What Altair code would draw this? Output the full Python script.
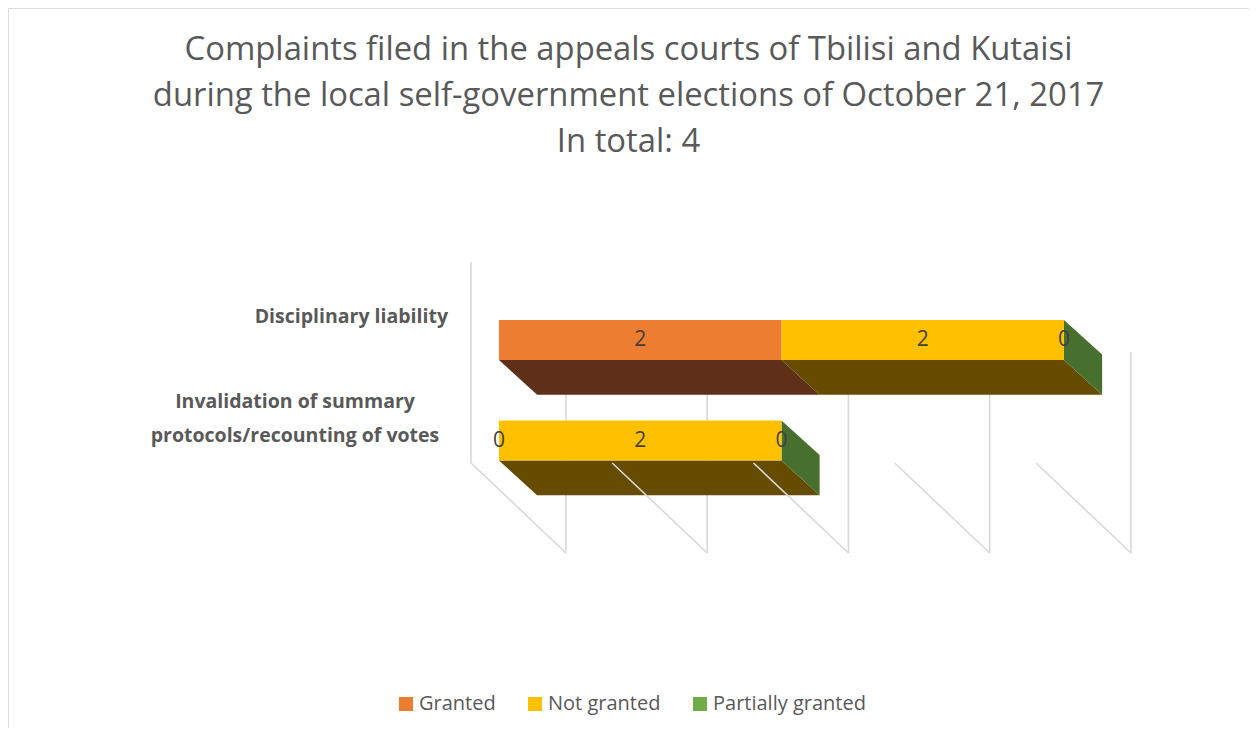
import altair as alt
import pandas as pd

# ---------------- data ----------------
categories = ["Disciplinary liability",
              "Invalidation of summary\nprotocols/recounting of votes"]
series_names = ["Granted", "Not granted", "Partially granted"]
granted = [2, 0]
not_granted = [2, 2]
partially_granted = [0, 0]
value_ticks = [0, 1, 2, 3, 4]
title_lines = ["Complaints filed in the appeals courts of Tbilisi and Kutaisi",
               "during the local self-government elections of October 21, 2017",
               "In total: 4"]

# ---------------- style ----------------
front_colors = ["#ED7D31", "#FFC000", "#70AD47"]
shade_colors = ["#5E3017", "#654C00", "#476F2D"]
grid_color = "#D9D9D9"
text_gray = "#595959"
FONT = "Open Sans"

# projection of the 3-D box (value units on x, category units on y)
X_DOMAIN = [-3.476, 5.310]
Y_DOMAIN = [-3.3035, 3.8607]
BAR_HALF = 0.2
DEPTH_DX = 0.27
DEPTH_DY = 0.345
WALL_X = -0.198
WALL_TOP = -0.776
WALL_BOTTOM = 1.224
FLOOR_DX = 0.672
FLOOR_DY = 0.895
LABEL_DY = -0.23
LABEL_SHIFT = 0.3  # upward shift per extra label line, in category units

series_values = {"Granted": granted, "Not granted": not_granted,
                 "Partially granted": partially_granted}

seg_rows, bottom_rows, side_rows, label_rows = [], [], [], []
for ci, cat in enumerate(categories):
    start = 0
    for si, s in enumerate(series_names):
        v = series_values[s][ci]
        end = start + v
        sid = f"{ci}-{si}"
        seg_rows.append(dict(series=s, value=v, x=start, x2=end, mid=(start + end) / 2,
                             y=ci - BAR_HALF, y2=ci + BAR_HALF, yc=ci))
        bottom_rows.append(dict(face=s, sid=sid, y=ci + BAR_HALF, x=start, x2=end))
        bottom_rows.append(dict(face=s, sid=sid, y=ci + BAR_HALF + DEPTH_DY,
                                x=start + DEPTH_DX, x2=end + DEPTH_DX))
        start = end
    last = series_names[-1]
    side_rows.append(dict(face=last, sid=str(ci), x=start,
                          y=ci - BAR_HALF, y2=ci + BAR_HALF))
    side_rows.append(dict(face=last, sid=str(ci), x=start + DEPTH_DX,
                          y=ci - BAR_HALF + DEPTH_DY, y2=ci + BAR_HALF + DEPTH_DY))
    n_lines = cat.count("\n") + 1
    label_rows.append(dict(cat=cat, x=WALL_X, lines=n_lines,
                           y=ci + LABEL_DY - (n_lines - 1) * LABEL_SHIFT / 2))

segs = pd.DataFrame(seg_rows)
bottoms = pd.DataFrame(bottom_rows)
sides = pd.DataFrame(side_rows)
labels = pd.DataFrame(label_rows)

wall = pd.DataFrame([dict(x=WALL_X, y=WALL_TOP, y2=WALL_BOTTOM)])
front_grid = pd.DataFrame([dict(x=t + WALL_X + FLOOR_DX, y=WALL_TOP + FLOOR_DY,
                                y2=WALL_BOTTOM + FLOOR_DY) for t in value_ticks])
diag = pd.DataFrame([dict(x=t + WALL_X, x2=t + WALL_X + FLOOR_DX, y=WALL_BOTTOM,
                          y2=WALL_BOTTOM + FLOOR_DY) for t in value_ticks])

xs = alt.Scale(domain=X_DOMAIN, nice=False, zero=False)
ys = alt.Scale(domain=Y_DOMAIN, nice=False, zero=False, reverse=True)


def X(f):
    return alt.X(f, type="quantitative", scale=xs, axis=None, title=None)


def Y(f):
    return alt.Y(f, type="quantitative", scale=ys, axis=None, title=None)


grid_rule = dict(color=grid_color, strokeWidth=1.6)

wall_layer = alt.Chart(wall).mark_rule(**grid_rule).encode(x=X("x"), y=Y("y"), y2="y2")
front_grid_layer = alt.Chart(front_grid).mark_rule(**grid_rule).encode(
    x=X("x"), y=Y("y"), y2="y2")
diag_layer = alt.Chart(diag).mark_rule(**grid_rule).encode(
    x=X("x"), x2="x2", y=Y("y"), y2="y2")

# shaded faces: same categories, listed in reverse so this scale is kept apart
shade_scale = alt.Scale(domain=series_names[::-1], range=shade_colors[::-1])

bottom_layer = alt.Chart(bottoms).mark_area(orient="horizontal").encode(
    y=Y("y"), x=alt.X("x:Q", scale=xs, axis=None, stack=None), x2="x2",
    detail="sid:N",
    fill=alt.Fill("face:N", scale=shade_scale, legend=None))

side_layer = alt.Chart(sides).mark_area(orient="vertical").encode(
    x=X("x"), y=alt.Y("y:Q", scale=ys, axis=None, stack=None), y2="y2",
    detail="sid:N",
    fill=alt.Fill("face:N", scale=shade_scale, legend=None))

front_layer = alt.Chart(segs).mark_rect().encode(
    x=X("x"), x2="x2", y=Y("y"), y2="y2",
    color=alt.Color("series:N",
                    scale=alt.Scale(domain=series_names, range=front_colors),
                    sort=series_names,
                    legend=alt.Legend(title=None, orient="none", direction="horizontal",
                                      legendX=388, legendY=686,
                                      symbolType="square", symbolSize=196,
                                      symbolStrokeWidth=0, labelFont=FONT,
                                      labelFontSize=20, labelColor=text_gray,
                                      labelOffset=3, columnPadding=29, padding=0)))

value_layer = alt.Chart(segs).mark_text(
    font=FONT, fontSize=21, color="#404040", baseline="middle", align="center").encode(
    x=X("mid"), y=Y("yc"), text="value:Q")

label_style = dict(font=FONT, fontSize=19.5, fontWeight="bold", color=text_gray,
                   baseline="middle", lineBreak="\n", lineHeight=34)
cat_single = alt.Chart(labels).transform_filter("datum.lines == 1").mark_text(
    align="right", dx=-23, **label_style).encode(x=X("x"), y=Y("y"), text="cat:N")
cat_multi = alt.Chart(labels).transform_filter("datum.lines > 1").mark_text(
    align="center", dx=-176, **label_style).encode(x=X("x"), y=Y("y"), text="cat:N")

chart = alt.layer(
    wall_layer, front_grid_layer, bottom_layer, side_layer, front_layer,
    diag_layer, value_layer, cat_single, cat_multi
).properties(
    width=1241, height=720,
    autosize=alt.AutoSizeParams(type="none"),
    padding=0,
    title=alt.TitleParams(title_lines, anchor="middle", frame="group", offset=-151,
                          baseline="top", font=FONT, fontSize=32.8, fontWeight="normal",
                          color=text_gray, lineHeight=46),
).configure_view(stroke=grid_color, strokeWidth=1.5).configure(background="white")

chart.save("out.html", embed_options={"renderer": "svg", "actions": False})
